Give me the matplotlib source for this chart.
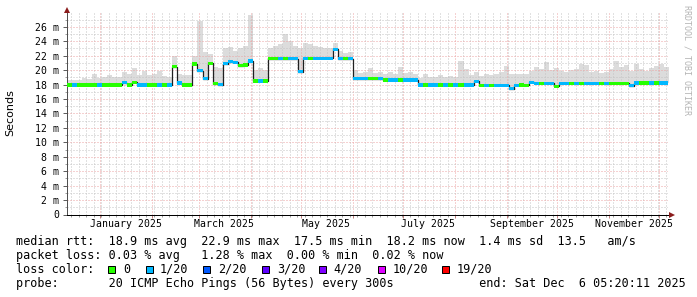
import numpy as np
import pandas as pd
import matplotlib
matplotlib.use("Agg")
import matplotlib.pyplot as plt
import matplotlib.dates as mdates
from matplotlib.patches import Rectangle
from matplotlib.ticker import NullFormatter, FixedLocator

plt.rcParams['font.family'] = ['DejaVu Sans Mono']

W, H, DPI = 697, 297, 100

# ---------------- data ----------------
start = pd.Timestamp("2024-12-12 00:00")
end = pd.Timestamp("2025-12-06 05:20:11")
bin_days = 3

median_ms = [
    17.95, 17.95, 17.95, 17.95, 17.95, 17.95, 17.95, 17.95, 17.95, 17.95,
    17.95, 18.25, 17.95, 18.3, 17.95, 17.95, 17.95, 17.95, 17.95, 17.95,
    17.95, 20.5, 18.2, 17.95, 17.95,
    20.85, 19.9, 18.8, 20.95, 18.1, 18.0, 20.9, 21.15, 21.1, 20.6,
    20.7, 21.25, 18.5, 18.5, 18.5,
    21.6, 21.6, 21.6, 21.6, 21.6, 21.6, 19.8, 21.65, 21.65, 21.65,
    21.65, 21.65, 21.65, 22.9, 21.6, 21.6, 21.6,
    18.8, 18.8, 18.8, 18.8, 18.8, 18.8, 18.65, 18.65, 18.65, 18.65,
    18.65, 18.65, 18.65,
    17.95, 17.95, 17.95, 17.95, 17.95, 17.95, 17.95, 17.95, 17.95, 17.95,
    17.95, 18.45, 17.9, 17.9, 17.9, 17.9, 17.9, 17.9, 17.45, 17.9,
    17.95, 17.9, 18.3, 18.15, 18.15, 18.15, 18.15, 17.75, 18.15, 18.15,
    18.15, 18.15, 18.15, 18.15, 18.15, 18.15, 18.15, 18.15, 18.15, 18.15,
    18.15, 18.15, 17.85, 18.2, 18.2, 18.2, 18.2, 18.2, 18.2, 18.2,
]

smoke_top_ms = [
    18.6, 18.7, 18.6, 18.9, 18.8, 19.5, 18.9, 19.0, 19.3, 19.0,
    19.0, 19.7, 19.4, 20.3, 19.3, 19.9, 19.3, 19.5, 19.9, 19.2,
    19.1, 22.0, 19.4, 19.3, 19.3,
    22.0, 26.8, 22.5, 22.2, 20.5, 20.3, 23.0, 23.2, 22.6, 23.1,
    23.3, 27.6, 20.0, 20.3, 20.0,
    23.0, 23.3, 23.6, 25.0, 24.0, 23.4, 23.0, 23.8, 23.6, 23.3,
    23.2, 23.1, 23.0, 23.7, 22.6, 22.4, 22.5,
    20.0, 19.6, 19.8, 20.3, 19.6, 19.7, 19.5, 19.8, 19.5, 20.4,
    19.6, 19.8, 19.4,
    18.9, 19.4, 19.1, 19.0, 19.3, 19.0, 19.2, 19.0, 21.2, 20.2,
    19.3, 19.7, 19.2, 19.5, 19.3, 19.4, 19.7, 20.6, 19.4, 19.4,
    19.5, 19.4, 19.9, 20.4, 20.2, 21.1, 20.0, 20.3, 19.9, 19.7,
    20.0, 20.2, 20.8, 20.7, 19.8, 19.9, 19.6, 19.8, 20.1, 21.2,
    20.4, 20.7, 19.9, 20.8, 20.2, 19.9, 20.3, 20.6, 20.8, 20.5,
]

# index into loss_labels / loss_colors
loss_idx = [
    0, 1, 0, 0, 0, 0, 1, 0, 0, 0, 0, 1, 0, 0, 1, 1, 0, 0, 1, 0, 1, 0, 1, 0, 0,
    0, 1, 1, 0, 0, 1, 1, 1, 1, 0, 0, 1, 0, 1, 0,
    0, 0, 1, 0, 1, 1, 1, 1, 0, 1, 1, 1, 1, 1, 1, 0, 1,
    1, 1, 1, 0, 0, 1, 0, 1, 1, 0, 1, 1, 1,
    1, 0, 1, 1, 0, 1, 0, 1, 0, 1, 1, 1, 0, 1, 0, 1, 1, 1, 1, 1,
    0, 0, 1, 1, 0, 1, 1, 0, 1, 1, 0, 1, 0, 1, 1, 1, 0, 1, 0, 0,
    0, 0, 1, 1, 0, 0, 1, 0, 1, 1,
]

loss_labels = ["0", "1/20", "2/20", "3/20", "4/20", "10/20", "19/20"]
loss_colors = ["#26ff00", "#00b8ff", "#0059ff", "#5e00ff", "#7e00ff", "#dd00ff", "#ff0000"]

ytick_values = [0, 2, 4, 6, 8, 10, 12, 14, 16, 18, 20, 22, 24, 26]
ytick_labels = ["0", "2 m", "4 m", "6 m", "8 m", "10 m", "12 m", "14 m",
                "16 m", "18 m", "20 m", "22 m", "24 m", "26 m"]
yminor_values = [1, 3, 5, 7, 9, 11, 13, 15, 17, 19, 21, 23, 25, 27]

month_labels = ["January 2025", "March 2025", "May 2025", "July 2025",
                "September 2025", "November 2025"]
month_label_dates = ["2025-01-16", "2025-03-16", "2025-05-16", "2025-07-16",
                     "2025-09-16", "2025-11-16"]

row_rtt = "median rtt:  18.9 ms avg  22.9 ms max  17.5 ms min  18.2 ms now  1.4 ms sd  13.5   am/s"
row_loss = "packet loss: 0.03 % avg   1.28 % max  0.00 % min  0.02 % now"
row_color = "loss color:"
row_probe = "probe:       20 ICMP Echo Pings (56 Bytes) every 300s            end: Sat Dec  6 05:20:11 2025"

# ---------------- figure ----------------
n = len(median_ms)
t = pd.date_range(start, periods=n, freq=f"{bin_days}D")
x = mdates.date2num(t.to_pydatetime())
xe = np.append(x, x[-1] + bin_days)
med = np.array(median_ms)
top = np.array(smoke_top_ms)
med_e = np.append(med, med[-1])
top_e = np.append(top, top[-1])

fig = plt.figure(figsize=(W / DPI, H / DPI), dpi=DPI)
fig.patch.set_facecolor("white")
ax_h = 201.2
ax = fig.add_axes([67 / W, 1 - 214.5 / H, 601 / W, ax_h / H])
ax.set_facecolor("white")

# smoke
ax.fill_between(xe, med_e, top_e, step="post", color="#dcdcdc", lw=0, zorder=1)
# median line
ax.step(xe, med_e, where="post", color="#202020", lw=0.9, zorder=2)
# loss coloured median band
sw = 0.23
loss_arr = np.array(loss_idx)
for k, col in enumerate(loss_colors):
    m = loss_arr == k
    if m.any():
        ax.bar(x[m], 2 * sw, bottom=med[m] - sw, width=bin_days, align="edge",
               color=col, lw=0, zorder=3)

ax.set_xlim(mdates.date2num(start.to_pydatetime()), mdates.date2num(end.to_pydatetime()))
ax.set_ylim(0, 27.87)

# ticks & grid
ax.xaxis.set_major_locator(mdates.MonthLocator())
minor_dates = pd.date_range("2024-12-10", "2025-12-10", freq="108h")
ax.xaxis.set_minor_locator(FixedLocator(mdates.date2num(minor_dates.to_pydatetime())))
ax.xaxis.set_major_formatter(NullFormatter())
ax.xaxis.set_minor_formatter(NullFormatter())
ax.set_yticks(ytick_values)
ax.set_yticklabels(ytick_labels)
ax.set_yticks(yminor_values, minor=True)

ax.set_axisbelow("line")
ax.grid(True, which="major", color="#eca4a4", linestyle=(0, (1, 2)), linewidth=0.72)
ax.grid(True, which="minor", color="#c4c4c4", linestyle=(0, (1, 2)), linewidth=0.72)

ax.tick_params(axis="y", which="major", length=3, width=0.72, color="#606060",
               pad=2.5, labelsize=7.15)
ax.tick_params(axis="y", which="minor", length=1.5, width=0.72, color="#a0a0a0")
ax.tick_params(axis="x", which="major", length=2.5, width=0.72, color="#c08080")
ax.tick_params(axis="x", which="minor", length=1.5, width=0.72, color="#a0a0a0")

for s in ("top", "right"):
    ax.spines[s].set_visible(False)
ax.spines["left"].set_color("#505050")
ax.spines["left"].set_linewidth(0.72)
ax.spines["bottom"].set_color("#000000")
ax.spines["bottom"].set_linewidth(0.72)

# axis arrows
ax.plot([0, 0], [1, 1.02], color="#505050", lw=0.72, transform=ax.transAxes, clip_on=False)
ax.plot([1, 1.006], [0, 0], color="#000000", lw=0.72, transform=ax.transAxes, clip_on=False)
ax.plot([0], [1 + 3.5 / ax_h], marker="^", ms=5, color="#8b1c1c", mew=0,
        transform=ax.transAxes, clip_on=False)
ax.plot([1 + 4 / 601], [0], marker=">", ms=5, color="#8b1c1c", mew=0,
        transform=ax.transAxes, clip_on=False)

# month labels
for lab, d in zip(month_labels, month_label_dates):
    ax.text(mdates.date2num(pd.Timestamp(d).to_pydatetime()), -9.5 / ax_h, lab,
            transform=ax.get_xaxis_transform(), ha="center", va="center", fontsize=7.15)

# y label and watermark
fig.text(10 / W, 1 - 113 / H, "Seconds", rotation=90, ha="center", va="center",
         fontsize=8, family="DejaVu Sans")
fig.text(687 / W, 1 - 5 / H, "RRDTOOL / TOBI OETIKER", rotation=270, ha="center",
         va="top", fontsize=6, color="#b4b4b4")

# legend text
lfs = 8.5
fig.text(16 / W, 1 - 241.5 / H, row_rtt, fontsize=lfs, va="center", ha="left")
fig.text(16 / W, 1 - 255.5 / H, row_loss, fontsize=lfs, va="center", ha="left")
fig.text(16 / W, 1 - 269.5 / H, row_color, fontsize=lfs, va="center", ha="left")
fig.text(16 / W, 1 - 283 / H, row_probe, fontsize=lfs, va="center", ha="left")

box_x = [108, 146, 203, 262, 319, 378, 442]
lab_x = [123, 160, 218, 277, 333, 393, 457]
for bx, lx, lab, col in zip(box_x, lab_x, loss_labels, loss_colors):
    fig.add_artist(Rectangle((bx / W, 1 - 273 / H), 7 / W, 7 / H, transform=fig.transFigure,
                             facecolor=col, edgecolor="black", lw=0.72))
    fig.text(lx / W, 1 - 269.5 / H, lab, fontsize=lfs, va="center", ha="left")

fig.savefig("out.png", dpi=DPI, facecolor="white")
